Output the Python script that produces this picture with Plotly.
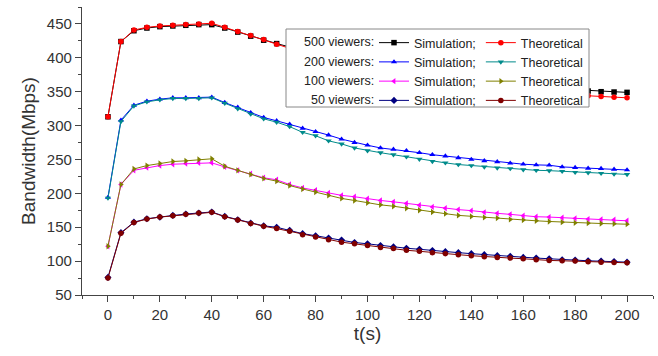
import plotly.graph_objects as go

t = list(range(0, 205, 5))

sim_500 = [313, 424, 440, 444, 446, 447, 448, 449, 449, 444, 438, 432, 426, 421, 416,
           410, 405, 400, 394, 389, 385, 381, 379, 376, 373, 370, 369, 366, 364, 362,
           361, 359, 357, 356, 355, 353, 352, 351, 350, 349.5, 349]
theo_500 = [313, 424, 441, 445, 447, 448, 449, 450, 451, 445, 439, 433, 427, 420, 414,
            407, 401, 395, 389, 384, 380, 376, 373, 370, 367, 364, 362, 359, 357, 355,
            353, 351, 350, 348, 347, 346, 345, 344, 343, 342, 341]
sim_200 = [194, 308, 330, 336, 339, 341, 341, 341, 342, 334, 327, 319, 312, 307, 302,
           296, 291, 286, 280, 275, 271, 267, 265, 263, 260, 257, 255, 252.5, 250, 248,
           246.5, 244.5, 243, 242, 241.5, 239, 238, 237, 236.5, 235.5, 234.5]
theo_200 = [193, 306, 329, 335, 338, 340, 340, 340, 341, 333, 325, 317, 310, 305, 298.5,
            290, 285, 277.5, 273, 267, 263, 260, 257, 254, 250.5, 247, 245, 242.5, 241, 239,
            237.5, 236.5, 235, 234, 233.5, 232.5, 231, 230.5, 229.5, 228.5, 228]
sim_100 = [122, 213, 234, 238, 241, 243, 244, 245, 245, 239, 234, 229, 223, 220, 213,
           208, 204.5, 200.5, 197, 195, 192, 189.5, 187.5, 185, 182.5, 180, 178, 176, 174.5, 172,
           170.5, 169, 167, 165.5, 165, 164, 163, 162, 161.5, 161, 159.5]
theo_100 = [122, 213, 236, 241, 244, 247, 248, 250, 251, 240, 234, 228, 222, 218, 211.5,
            206.5, 202, 197, 192.5, 189.5, 186, 183, 181, 178, 175, 172.5, 170, 167.5, 166, 164.5,
            163.5, 161.5, 160.5, 159.5, 158.5, 157.5, 156.5, 156, 155.5, 155, 154.5]
sim_50 = [76, 142, 157.5, 162.5, 165, 167.5, 169.5, 171, 172.5, 166, 161, 156, 152, 150, 145.5,
          140.5, 137.5, 134, 131, 127.5, 125.5, 123, 121, 119, 117.5, 115.5, 114, 112.5, 111, 109.5,
          108, 107, 105.5, 104.5, 103.5, 102, 101.5, 100.5, 100, 99.5, 98.5]
theo_50 = [75, 141, 157, 162, 165, 167, 169, 171, 172, 165.5, 160.5, 155.5, 151.5, 148, 144,
           139, 135.5, 131.5, 128, 125.5, 123, 120, 118.5, 116, 114.5, 112.5, 111, 109.5, 108, 106.5,
           105.5, 104.5, 103.5, 102, 101, 100.5, 100, 99, 98.5, 98, 97.5]

viewer_labels = ["500 viewers:", "200 viewers:", "100 viewers:", "50 viewers:"]
sim_series = [sim_500, sim_200, sim_100, sim_50]
theo_series = [theo_500, theo_200, theo_100, theo_50]
sim_colors = ["#000000", "#0000ff", "#ff00ff", "#000080"]
theo_colors = ["#ff0000", "#008b8b", "#808000", "#800000"]
sim_symbols = ["square", "triangle-up", "triangle-left", "diamond"]
theo_symbols = ["circle", "triangle-down", "triangle-right", "circle"]

fig = go.Figure()
for i in range(4):
    fig.add_trace(go.Scatter(
        x=t, y=sim_series[i], mode="lines+markers", name="Simulation;",
        legendgroup="sim", legendrank=i + 1,
        line=dict(color=sim_colors[i], width=1),
        marker=dict(symbol=sim_symbols[i], size=5.5, color=sim_colors[i])))
    fig.add_trace(go.Scatter(
        x=t, y=theo_series[i], mode="lines+markers", name="Theoretical",
        legendgroup="theo", legendrank=i + 1,
        line=dict(color=theo_colors[i], width=1),
        marker=dict(symbol=theo_symbols[i], size=5.5, color=theo_colors[i])))

W, H = 658, 356
ml, mr, mt, mb = 82, 5, 7, 61
pw, ph = W - ml - mr, H - mt - mb

def px(x):
    return (x - ml) / pw

def py(y):
    return (H - mb - y) / ph

axis_common = dict(showline=True, linecolor="#444", linewidth=1.3, showgrid=False,
                   zeroline=False, tickcolor="#444", tickwidth=1.2, ticklen=6,
                   tickfont=dict(family="Liberation Sans, Arial", size=15, color="#333"))

fig.update_layout(
    width=W, height=H,
    margin=dict(l=ml, r=mr, t=mt, b=mb),
    paper_bgcolor="white", plot_bgcolor="white",
    font=dict(family="Liberation Sans, Arial", color="#333"),
    xaxis=dict(range=[-10, 210], tick0=0, dtick=20, ticks="outside",
               minor=dict(dtick=10, ticks="outside", ticklen=3, tickcolor="#444"),
               title=dict(text="t(s)", font=dict(size=19, color="#333"), standoff=4),
               **axis_common),
    yaxis=dict(range=[50, 475], tick0=50, dtick=50, ticks="outside",
               minor=dict(dtick=25, ticks="outside", ticklen=3, tickcolor="#444"),
               title=dict(text="Bandwidth(Mbps)", font=dict(size=19, color="#333"), standoff=6),
               **axis_common),
    xaxis2=dict(overlaying="x", side="top", range=[-10, 210], tick0=0, dtick=20,
                ticks="inside", showticklabels=False, showline=True, linecolor="#444",
                linewidth=1.3, tickcolor="#444", ticklen=5, showgrid=False, zeroline=False,
                minor=dict(dtick=10, ticks="inside", ticklen=3, tickcolor="#444")),
    yaxis2=dict(overlaying="y", side="right", range=[50, 475], tick0=50, dtick=50,
                ticks="inside", showticklabels=False, showline=True, linecolor="#444",
                linewidth=1.3, tickcolor="#444", ticklen=5, showgrid=False, zeroline=False,
                minor=dict(dtick=25, ticks="inside", ticklen=3, tickcolor="#444")),
    legend=dict(x=px(374), y=py(28), xanchor="left", yanchor="top",
                orientation="h", traceorder="grouped", tracegroupgap=0,
                bgcolor="rgba(0,0,0,0)", borderwidth=0,
                font=dict(family="Liberation Sans, Arial", size=12.5, color="#222")),
    showlegend=True,
)

# legend frame (white box hiding the curves beneath, as in the reference)
fig.add_shape(type="rect", xref="paper", yref="paper",
              x0=px(286), x1=px(589), y0=py(107), y1=py(29),
              line=dict(color="#888", width=1), fillcolor="white", layer="above")

row_y = [42.5, 61.5, 80.5, 99.5]
for lab, yy in zip(viewer_labels, row_y):
    fig.add_annotation(text=lab, xref="paper", yref="paper", x=px(376), y=py(yy),
                       xanchor="right", yanchor="middle", showarrow=False,
                       font=dict(family="Liberation Sans, Arial", size=12.5, color="#222"))

fig.write_html("out.html")
